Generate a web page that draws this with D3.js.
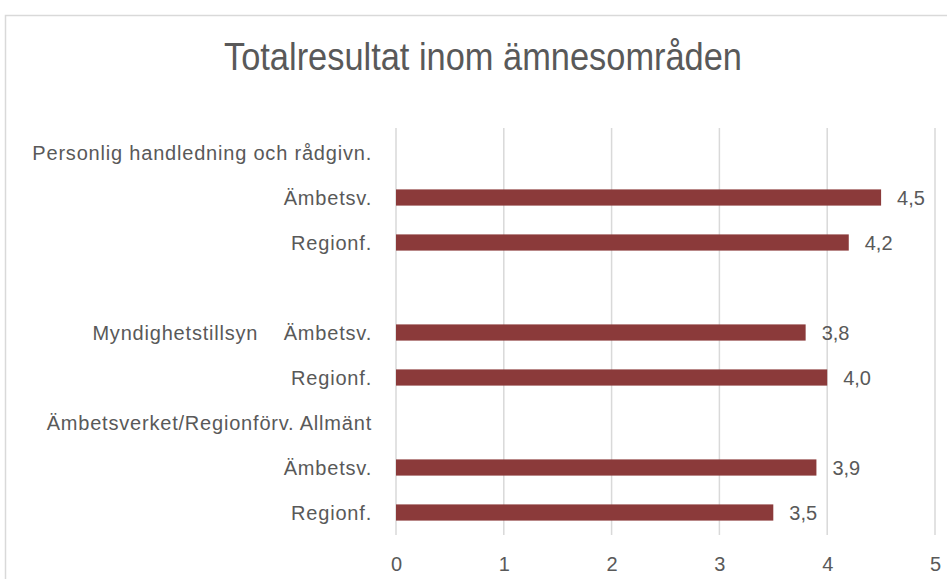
<!DOCTYPE html>
<html>
<head>
<meta charset="utf-8">
<script src="https://cdn.jsdelivr.net/npm/d3@7"></script>
<style>
  body { margin: 0; background: #fff; }
  text { font-family: "Liberation Sans Narrow", "Liberation Sans", "DejaVu Sans Condensed", sans-serif; fill: #595959; }
</style>
</head>
<body>
<div id="chart"></div>
<script>
const title = "Totalresultat inom ämnesområden";
const categories = [
    "Personlig handledning och rådgivn.",
    "Ämbetsv.",
    "Regionf.",
    "",
    "Myndighetstillsyn    Ämbetsv.",
    "Regionf.",
    "Ämbetsverket/Regionförv. Allmänt",
    "Ämbetsv.",
    "Regionf."
];
const values = [null, 4.5, 4.2, null, 3.8, 4.0, null, 3.9, 3.5];
const xTicks = [0, 1, 2, 3, 4, 5];

const width = 947, height = 579;
const margin = { top: 130, right: 12, bottom: 44, left: 396 };
const innerW = width - margin.left - margin.right;
const innerH = height - margin.top - margin.bottom;

const svg = d3.select("#chart")
    .append("svg")
    .attr("width", width)
    .attr("height", height);

// chart frame
svg.append("rect")
    .attr("x", 5.5).attr("y", 15.5)
    .attr("width", width + 10).attr("height", height + 10)
    .attr("fill", "none")
    .attr("stroke", "#d9d9d9")
    .attr("stroke-width", 1.5);

svg.append("text")
    .attr("x", 483)
    .attr("y", 70)
    .attr("text-anchor", "middle")
    .attr("textLength", 518)
    .attr("lengthAdjust", "spacingAndGlyphs")
    .style("font-size", "38px")
    .text(title);

const g = svg.append("g")
    .attr("transform", `translate(${margin.left},${margin.top})`);

const x = d3.scaleLinear().domain([0, 5]).range([0, innerW]);
const y = d3.scaleBand().domain(d3.range(categories.length)).range([0, innerH]).paddingInner(0.64).paddingOuter(0.32);

// gridlines
g.selectAll(".grid")
    .data(xTicks)
    .enter()
    .append("line")
    .attr("x1", d => x(d)).attr("x2", d => x(d))
    .attr("y1", -2).attr("y2", innerH)
    .attr("stroke", "#d9d9d9")
    .attr("stroke-width", 1.5);

// x axis labels
const xAxis = g.append("g")
    .attr("transform", `translate(0,${innerH})`)
    .call(d3.axisBottom(x).tickValues(xTicks).tickSize(0).tickPadding(22).tickFormat(d3.format("d")));
xAxis.select(".domain").remove();
xAxis.selectAll("text")
    .style("font-size", "20px")
    .style("font-family", "'Liberation Sans', sans-serif")
    .attr("fill", "#595959");

// category labels
g.selectAll(".cat")
    .data(categories)
    .enter()
    .append("text")
    .attr("x", -24)
    .attr("y", (d, i) => y(i) + y.bandwidth() / 2)
    .attr("dy", "0.35em")
    .attr("text-anchor", "end")
    .style("font-size", "20px")
    .style("letter-spacing", "0.8px")
    .style("white-space", "pre")
    .attr("xml:space", "preserve")
    .text(d => d);

const barData = values.map((v, i) => ({ i, v })).filter(d => d.v !== null);

g.selectAll(".bar")
    .data(barData)
    .enter()
    .append("rect")
    .attr("x", x(0))
    .attr("y", d => y(d.i))
    .attr("width", d => x(d.v) - x(0))
    .attr("height", y.bandwidth())
    .attr("fill", "#8b3a3a");

const fmt = d3.formatLocale({ decimal: ",", thousands: " ", grouping: [3], currency: ["", ""] }).format(".1f");

g.selectAll(".val")
    .data(barData)
    .enter()
    .append("text")
    .attr("x", d => x(d.v) + 16)
    .attr("y", d => y(d.i) + y.bandwidth() / 2)
    .attr("dy", "0.35em")
    .style("font-size", "20px")
    .text(d => fmt(d.v));
</script>
</body>
</html>
